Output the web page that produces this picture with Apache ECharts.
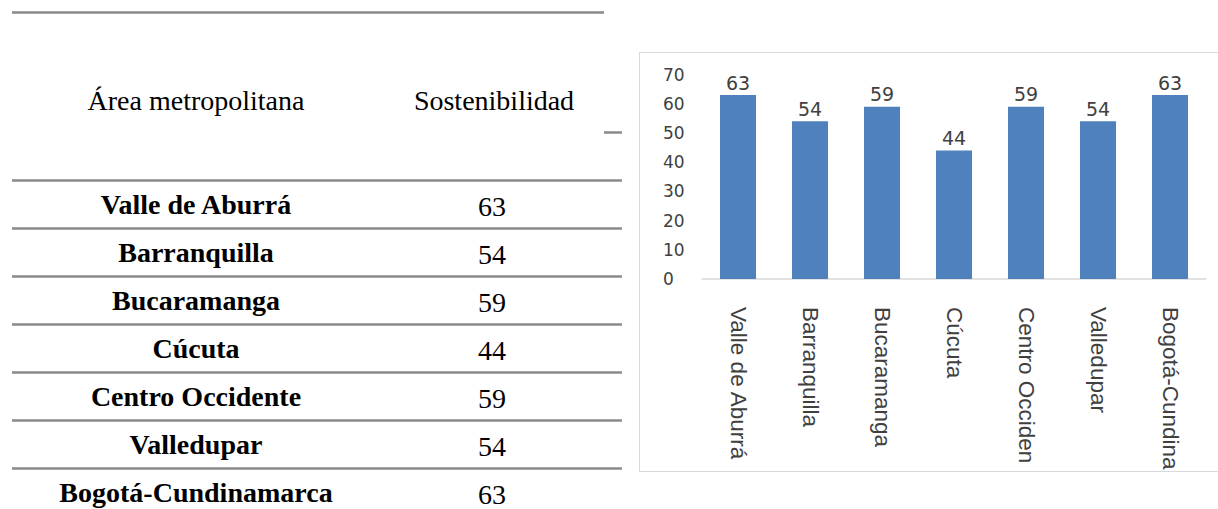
<!DOCTYPE html>
<html>
<head>
<meta charset="utf-8">
<script src="https://cdn.jsdelivr.net/npm/echarts@6/dist/echarts.min.js"></script>
<style>
  html, body { margin: 0; padding: 0; background: #ffffff; width: 1218px; height: 509px; overflow: hidden; }
  #table { position: absolute; left: 0; top: 0; width: 639px; height: 509px; }
  #chart { position: absolute; left: 639px; top: 52px; width: 600px; height: 418px; border: 1px solid #d9d9d9; overflow: hidden; }
</style>
</head>
<body>
<div id="table"></div>
<div id="chart"></div>
<script>
// ---- data ----
const tableHeaders = ['Área metropolitana', 'Sostenibilidad'];
const categories = ['Valle de Aburrá', 'Barranquilla', 'Bucaramanga', 'Cúcuta', 'Centro Occidente', 'Valledupar', 'Bogotá-Cundinamarca'];
const values = [63, 54, 59, 44, 59, 54, 63];
const yMin = 0, yMax = 70, yStep = 10;

// ---- table (drawn with ECharts graphic) ----
const tableChart = echarts.init(document.getElementById('table'), null, { renderer: 'svg' });
const lineColor = '#8a8a8a';
const col1X = 196, col2X = 492;
const firstRowY = 204, rowH = 48;
const g = [];
// top rule
g.push({ type: 'line', shape: { x1: 12, y1: 12.5, x2: 604, y2: 12.5 }, style: { stroke: lineColor, lineWidth: 2.5 } });
// small stray rule
g.push({ type: 'line', shape: { x1: 604, y1: 132.5, x2: 622, y2: 132.5 }, style: { stroke: lineColor, lineWidth: 2.5 } });
// header texts
g.push({ type: 'text', x: col1X, y: 100, style: { text: tableHeaders[0], fontFamily: 'Liberation Serif', fontSize: 28, fill: '#000', align: 'center', verticalAlign: 'middle' } });
g.push({ type: 'text', x: col2X + 2, y: 100, style: { text: tableHeaders[1], fontFamily: 'Liberation Serif', fontSize: 28, fill: '#000', align: 'center', verticalAlign: 'middle' } });
// rows
categories.forEach(function (name, i) {
  const lineY = 180.5 + i * rowH;
  g.push({ type: 'line', shape: { x1: 12, y1: lineY, x2: 622, y2: lineY }, style: { stroke: lineColor, lineWidth: 2.5 } });
  const cy = firstRowY + i * rowH;
  g.push({ type: 'text', x: col1X, y: cy, style: { text: name, fontFamily: 'Liberation Serif', fontSize: 28, fontWeight: 'bold', fill: '#000', align: 'center', verticalAlign: 'middle' } });
  g.push({ type: 'text', x: col2X, y: cy + 2, style: { text: String(values[i]), fontFamily: 'Liberation Serif', fontSize: 28, fill: '#000', align: 'center', verticalAlign: 'middle' } });
});
tableChart.setOption({ animation: false, graphic: { elements: g } });

// ---- bar chart ----
const chart = echarts.init(document.getElementById('chart'), null, { renderer: 'svg' });
chart.setOption({
  animation: false,
  grid: { left: 62, top: 21.6, width: 504, bottom: 192, containLabel: false, outerBoundsMode: 'none' },
  xAxis: {
    type: 'category',
    data: categories,
    axisLine: { show: true, lineStyle: { color: '#d9d9d9', width: 1.5 } },
    axisTick: { show: false },
    axisLabel: {
      rotate: -90,
      margin: 28,
      interval: 0,
      color: '#404040',
      fontFamily: 'Liberation Sans',
      fontSize: 22.5,
      width: 164,
      overflow: 'truncate',
      ellipsis: ''
    }
  },
  yAxis: {
    type: 'value',
    min: yMin,
    max: yMax,
    interval: yStep,
    axisLine: { show: false },
    axisTick: { show: false },
    splitLine: { show: false },
    axisLabel: {
      align: 'left',
      margin: 39,
      color: '#404040',
      fontFamily: 'DejaVu Sans',
      fontSize: 17
    }
  },
  series: [{
    type: 'bar',
    data: values,
    barWidth: '50%',
    itemStyle: { color: '#4f81bd' },
    label: {
      show: true,
      position: 'top',
      distance: 3,
      color: '#404040',
      fontFamily: 'DejaVu Sans',
      fontSize: 19
    }
  }]
});
</script>
</body>
</html>
